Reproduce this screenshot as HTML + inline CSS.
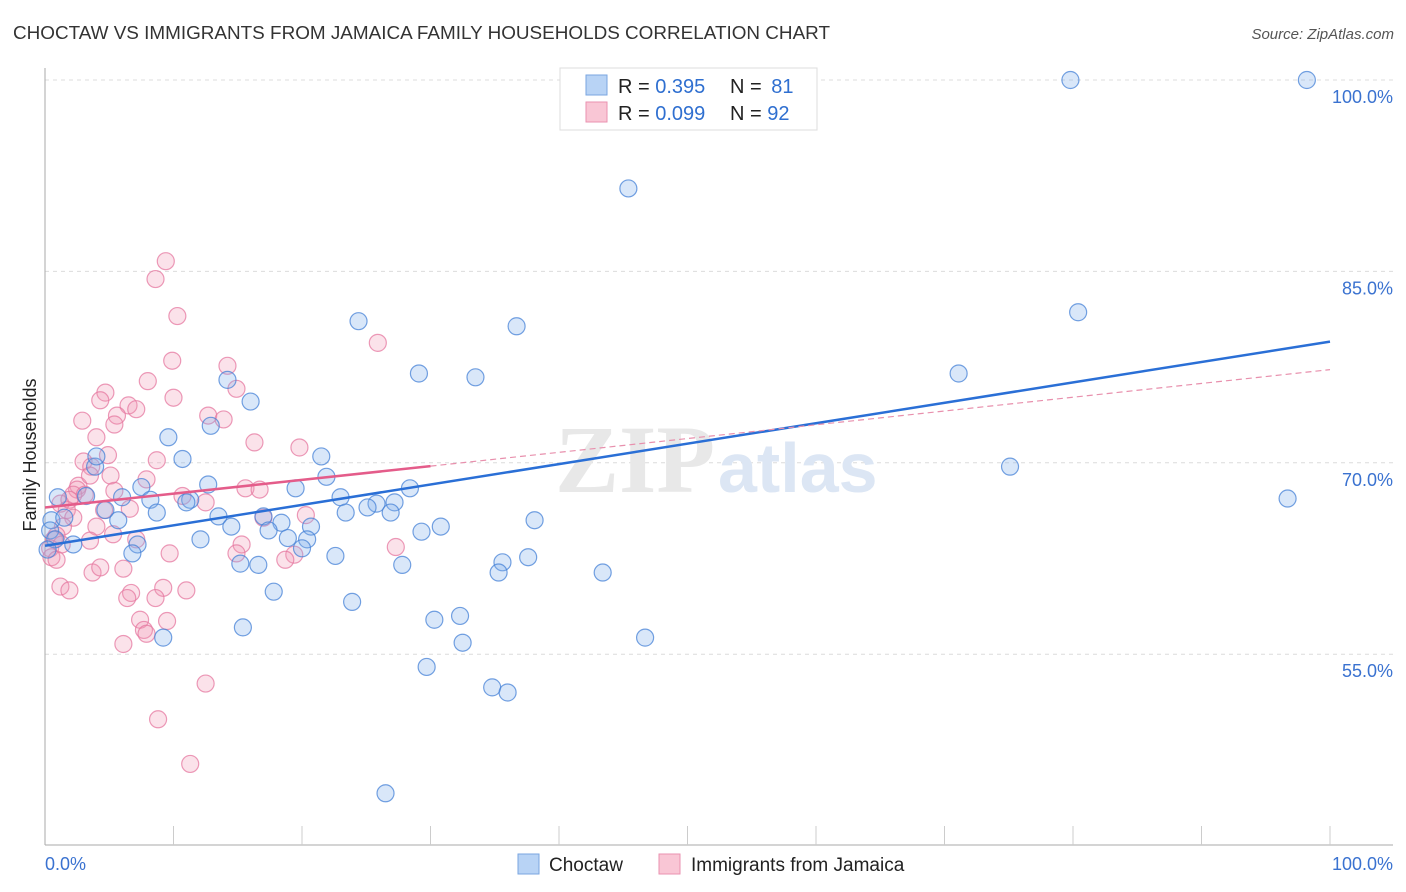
<!DOCTYPE html>
<html><head><meta charset="utf-8"><style>
body{margin:0;background:#fff;font-family:"Liberation Sans",sans-serif}
#wrap{position:relative;width:1406px;height:892px;overflow:hidden}
</style></head><body>
<div id="wrap">
<svg id="svg" width="1406" height="892" xmlns="http://www.w3.org/2000/svg">
<text x="13" y="39" font-size="18" fill="#333" textLength="817" lengthAdjust="spacingAndGlyphs">CHOCTAW VS IMMIGRANTS FROM JAMAICA FAMILY HOUSEHOLDS CORRELATION CHART</text>
<text x="1394" y="39" font-size="15" font-style="italic" fill="#555" text-anchor="end">Source: ZipAtlas.com</text>
<text x="36" y="455" font-size="18" fill="#222" text-anchor="middle" transform="rotate(-90 36 455)">Family Households</text>
<g id="grid"></g>
<text x="555" y="492" font-size="96" font-family="Liberation Serif" fill="#e8e8e8" font-weight="bold">ZIP</text>
<text x="718" y="492" font-size="70" fill="#dce6f4" font-weight="bold">atlas</text>
<g id="pts"></g>
<g id="lines"></g>
<g>
<rect x="560" y="68" width="257" height="62" fill="#fff" stroke="#ddd"/>
<rect x="586" y="75" width="21" height="20" fill="#b8d3f5" stroke="#7aa6e0"/>
<rect x="586" y="102" width="21" height="20" fill="#f9c6d5" stroke="#ea92b0"/>
<text x="618" y="93" font-size="20" fill="#222">R = <tspan fill="#2f6fd0">0.395</tspan></text>
<text x="730" y="93" font-size="20" fill="#222">N = <tspan fill="#2f6fd0" dx="4">81</tspan></text>
<text x="618" y="120" font-size="20" fill="#222">R = <tspan fill="#2f6fd0">0.099</tspan></text>
<text x="730" y="120" font-size="20" fill="#222">N = <tspan fill="#2f6fd0">92</tspan></text>
</g>
<g>
<rect x="518" y="854" width="21" height="20" fill="#b8d3f5" stroke="#7aa6e0"/>
<text x="549" y="871" font-size="19" fill="#222">Choctaw</text>
<rect x="659" y="854" width="21" height="20" fill="#f9c6d5" stroke="#ea92b0"/>
<text x="691" y="871" font-size="19" fill="#222">Immigrants from Jamaica</text>
</g>
</svg>
</div>
<script>
const yTicks=[55,70,85,100];
const yTickLabels=["55.0%","70.0%","85.0%","100.0%"];
const xTickCount=10;
const blueX=[79.8,98.2,45.4,80.4,24.4,36.7,71.1,29.1,33.5,14.2,16.0,9.6,12.9,10.7,75.1,21.5,96.7,21.9,28.4,19.5,12.7,7.5,3.9,4.0,1.0,3.2,6.0,8.2,11.3,11.0,23.0,25.8,27.2,25.1,23.4,26.9,8.7,4.7,5.7,0.5,1.5,13.5,17.0,18.4,20.7,14.5,17.4,38.1,30.8,29.3,12.1,18.9,20.4,7.2,2.2,6.8,20.0,22.6,35.6,37.6,15.2,16.6,27.8,35.3,43.4,17.8,23.9,32.3,30.3,15.4,9.2,46.7,32.5,29.7,34.8,36.0,26.5,0.4,0.8,0.2];
const blueY=[100,100,91.5,81.8,81.1,80.7,77.0,77.0,76.7,76.5,74.8,72.0,72.9,70.3,69.7,70.5,67.2,68.9,68.0,68.0,68.3,68.1,69.7,70.5,67.3,67.4,67.3,67.1,67.1,66.9,67.3,66.8,66.9,66.5,66.1,66.1,66.1,66.3,65.5,65.5,65.7,65.8,65.8,65.3,65.0,65.0,64.7,65.5,65.0,64.6,64.0,64.1,64.0,63.6,63.6,62.9,63.3,62.7,62.2,62.6,62.1,62.0,62.0,61.4,61.4,59.9,59.1,58.0,57.7,57.1,56.3,56.3,55.9,54.0,52.4,52.0,44.1,64.7,64.0,63.2];
const pinkX=[9.4,8.6,10.3,25.9,9.9,14.2,8.0,14.9,4.7,4.3,6.5,7.1,10.0,5.6,2.9,12.7,13.9,5.4,4.0,16.3,19.8,4.9,3.0,8.7,3.6,7.9,5.1,2.6,2.5,2.2,1.2,1.7,15.6,16.7,10.7,12.5,5.4,2.2,4.6,6.6,20.3,17.0,1.4,4.0,5.3,0.9,0.7,3.5,0.4,0.5,7.1,15.3,9.7,14.9,27.3,19.4,18.7,3.7,4.3,6.1,1.2,1.9,6.7,6.4,9.2,11.0,8.6,7.4,9.5,7.7,7.9,6.1,12.5,8.8,11.3,1.9,3.1,3.5,0.9,1.3];
const pinkY=[85.8,84.4,81.5,79.4,78.0,77.6,76.4,75.8,75.5,74.9,74.5,74.2,75.1,73.7,73.3,73.7,73.4,73.0,72.0,71.6,71.2,70.6,70.1,70.2,69.7,68.7,69.0,68.2,67.9,67.5,66.8,66.3,68.0,67.9,67.4,66.9,67.8,65.7,66.3,66.4,65.9,65.7,65.0,65.0,64.4,64.3,64.0,63.9,63.3,62.6,64.0,63.6,62.9,62.9,63.4,62.8,62.4,61.4,61.8,61.7,60.3,60.0,59.8,59.4,60.2,60.0,59.4,57.7,57.6,56.9,56.6,55.8,52.7,49.9,46.4,67.1,67.5,69.0,62.4,63.6];
const blueTrend=[63.5,79.5];
const pinkTrend=[66.5,77.3];
const pinkSolidEnd=30;

const NS="http://www.w3.org/2000/svg";
const X=v=>45+v*12.85;
const Y=v=>80+(100-v)*12.76;
function mk(t,a,p){const e=document.createElementNS(NS,t);for(const k in a)e.setAttribute(k,a[k]);p.appendChild(e);return e;}
const grid=document.getElementById('grid');
yTicks.forEach((t,i)=>{
  const l=mk('line',{x1:45,x2:1393,y1:Y(t),y2:Y(t),stroke:'#dcdcdc','stroke-dasharray':'4,4'},grid);
  
  
  const tx=mk('text',{x:1393,y:Y(t)+23,'font-size':18,fill:'#3a72d0','text-anchor':'end'},grid);
  tx.textContent=yTickLabels[i];
  
  
});
const ax=mk('line',{x1:45,x2:45,y1:68,y2:845,stroke:'#aaa'},grid);


const bx=mk('line',{x1:45,x2:1393,y1:845,y2:845,stroke:'#aaa'},grid);


for(let i=1;i<=xTickCount;i++){
  const t=mk('line',{x1:X(i*10),x2:X(i*10),y1:826,y2:845,stroke:'#ccc'},grid);
  
  
}
[[0,"0.0%","start",45],[100,"100.0%","end",1393]].forEach(d=>{
  const t=mk('text',{x:d[3],y:870,'font-size':18,fill:'#3a72d0','text-anchor':d[2]},grid);
  t.textContent=d[1];
  
  
});
const pts=document.getElementById('pts');
function draw(xs,ys,fill,stroke,name){
  xs.forEach((x,i)=>{
    const c=mk('circle',{cx:X(x),cy:Y(ys[i]),r:8.5,fill:fill,stroke:stroke,'stroke-width':1.2},pts);
    
    
  });
}
draw(pinkX,pinkY,'rgba(242,150,180,0.28)','rgba(230,120,160,0.75)','jamaica-point');
draw(blueX,blueY,'rgba(130,175,235,0.3)','rgba(70,130,215,0.75)','choctaw-point');
const lines=document.getElementById('lines');
const lb=mk('line',{x1:X(0),y1:Y(blueTrend[0]),x2:X(100),y2:Y(blueTrend[1]),stroke:'#2a6fd6','stroke-width':2.5},lines);


const pm=pinkTrend[0]+(pinkTrend[1]-pinkTrend[0])*pinkSolidEnd/100;
const lp=mk('line',{x1:X(0),y1:Y(pinkTrend[0]),x2:X(pinkSolidEnd),y2:Y(pm),stroke:'#e45c8a','stroke-width':2.5},lines);


const ld=mk('line',{x1:X(pinkSolidEnd),y1:Y(pm),x2:X(100),y2:Y(pinkTrend[1]),stroke:'#e890ad','stroke-width':1.2,'stroke-dasharray':'6,4'},lines);


</script>
</body></html>
